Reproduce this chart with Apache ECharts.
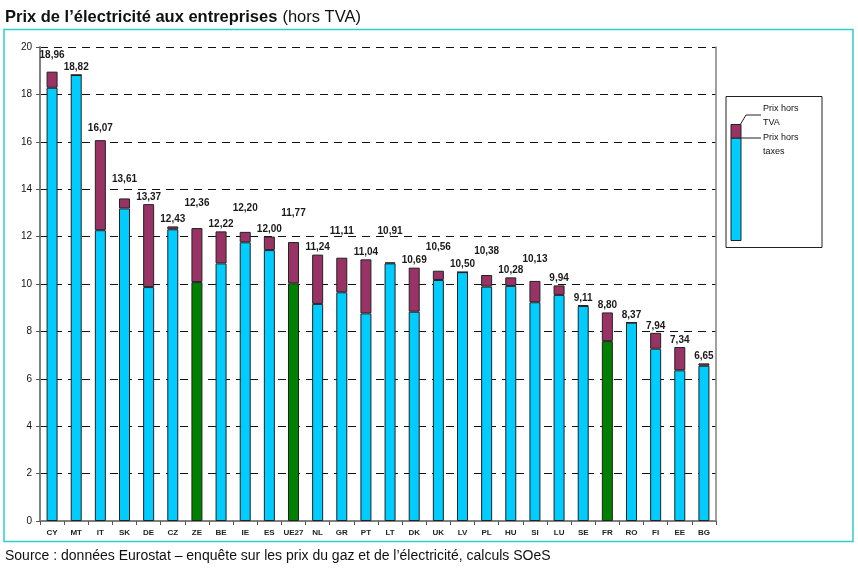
<!DOCTYPE html>
<html>
<head>
<meta charset="utf-8">
<script src="https://cdn.jsdelivr.net/npm/echarts@6/dist/echarts.min.js"></script>
<style>
  html, body { margin: 0; padding: 0; background: #fff; }
  #chart { width: 858px; height: 569px; }
</style>
</head>
<body>
<div id="chart"></div>
<script>
// pays (ordre du graphique)
var pays = ['CY','MT','IT','SK','DE','CZ','ZE','BE','IE','ES','UE27','NL','GR','PT',
            'LT','DK','UK','LV','PL','HU','SI','LU','SE','FR','RO','FI','EE','BG'];
// prix hors TVA (total affiché)
var prixHorsTVA = [18.96,18.82,16.07,13.61,13.37,12.43,12.36,12.22,12.20,12.00,11.77,11.24,11.11,11.04,
                   10.91,10.69,10.56,10.50,10.38,10.28,10.13,9.94,9.11,8.80,8.37,7.94,7.34,6.65];
// prix hors taxes
var prixHorsTaxes = [18.28,18.82,12.27,13.19,9.87,12.31,10.08,10.87,11.76,11.43,10.03,9.16,9.65,8.76,
                     10.87,8.83,10.17,10.50,9.89,9.92,9.23,9.54,9.07,7.59,8.37,7.27,6.36,6.55];
var enVert = ['ZE','UE27','FR'];
var yTicks = [0,2,4,6,8,10,12,14,16,18,20];

// décalage des étiquettes (certaines sont relevées)
var etiquetteHaute = {CY:9, SK:12, IT:5, ZE:18, IE:17, UE27:22, GR:19, LT:24, UK:16, PL:17, SI:15};

var bleu = '#00CCFF', bordeaux = '#993366', vert = '#008000';

var baseData = prixHorsTaxes.map(function (v, i) {
    return {value: v, itemStyle: {color: enVert.indexOf(pays[i]) >= 0 ? vert : bleu}};
});
var tvaData = prixHorsTVA.map(function (t, i) {
    var d = Math.max(0, +(t - prixHorsTaxes[i]).toFixed(2));
    return {
        value: d,
        label: {distance: 2 + (etiquetteHaute[pays[i]] || 0)}
    };
});

var option = {
    animation: false,
    title: {
        left: 0, top: 3,
        text: '{b|Prix de l\u2019électricité aux entreprises} {n|(hors TVA)}',
        textStyle: {
            rich: {
                b: {fontFamily: 'Liberation Sans', fontSize: 16.5, fontWeight: 'bold', color: '#111'},
                n: {fontFamily: 'Liberation Sans', fontSize: 16.5, fontWeight: 'normal', color: '#111'}
            }
        }
    },
    grid: {left: 40, right: 142, top: 47, bottom: 48},
    xAxis: {
        type: 'category',
        data: pays,
        axisLine: {lineStyle: {color: '#808080', width: 2}},
        axisTick: {show: true, length: 4, lineStyle: {color: '#555'}},
        axisLabel: {fontFamily: 'Liberation Sans', fontSize: 8, fontWeight: 'bold', color: '#222', margin: 8, interval: 0}
    },
    yAxis: [{
        type: 'value',
        min: 0, max: 20, interval: 2,
        axisLine: {show: true, lineStyle: {color: '#808080', width: 2}},
        axisTick: {show: true, length: 4, lineStyle: {color: '#555'}},
        axisLabel: {fontFamily: 'Liberation Sans', fontSize: 10, color: '#111', margin: 8,
            formatter: function (v) { return yTicks.indexOf(v) >= 0 ? v : ''; }},
        splitLine: {show: true, lineStyle: {color: '#111', type: [8, 6], width: 1}}
    }, {
        type: 'value',
        position: 'right',
        min: 0, max: 20, interval: 2,
        axisLine: {show: true, lineStyle: {color: '#808080', width: 1.5}},
        axisTick: {show: false},
        axisLabel: {show: false},
        splitLine: {show: false}
    }],
    series: [{
        name: 'Prix hors taxes',
        type: 'bar',
        stack: 'prix',
        barWidth: 11,
        data: baseData,
        itemStyle: {borderColor: '#222', borderWidth: 1}
    }, {
        name: 'Prix hors TVA',
        type: 'bar',
        stack: 'prix',
        barWidth: 11,
        data: tvaData,
        itemStyle: {color: bordeaux, borderColor: '#222', borderWidth: 1},
        label: {
            show: true,
            position: 'top',
            fontFamily: 'Liberation Sans',
            fontSize: 10,
            fontWeight: 'bold',
            color: '#1a1a1a',
            formatter: function (p) { return prixHorsTVA[p.dataIndex].toFixed(2).replace('.', ','); }
        }
    }],
    graphic: [
        // cadre
        {type: 'rect', shape: {x: 4, y: 29.5, width: 849, height: 512},
         style: {fill: 'none', stroke: '#33CCCC', lineWidth: 1.5}},
        // légende
        {type: 'rect', shape: {x: 726, y: 96.5, width: 96, height: 151},
         style: {fill: '#fff', stroke: '#222', lineWidth: 1}},
        {type: 'rect', shape: {x: 731, y: 138, width: 10, height: 102.5},
         style: {fill: bleu, stroke: '#222', lineWidth: 1}},
        {type: 'rect', shape: {x: 731, y: 124.5, width: 10, height: 13.5},
         style: {fill: bordeaux, stroke: '#222', lineWidth: 1}},
        {type: 'polyline', shape: {points: [[740, 125], [746, 115], [761, 115]]},
         style: {stroke: '#222', lineWidth: 1, fill: 'none'}},
        {type: 'polyline', shape: {points: [[741, 138], [761, 138]]},
         style: {stroke: '#222', lineWidth: 1, fill: 'none'}},
        {type: 'text', x: 763, y: 102, style: {text: 'Prix hors\nTVA', lineHeight: 14,
         font: '9px "Liberation Sans"', fill: '#111'}},
        {type: 'text', x: 763, y: 130.5, style: {text: 'Prix hors\ntaxes', lineHeight: 14,
         font: '9px "Liberation Sans"', fill: '#111'}},
        // source
        {type: 'text', x: 5, y: 549, style: {
            text: 'Source : données Eurostat \u2013 enquête sur les prix du gaz et de l\u2019électricité, calculs SOeS',
            font: '14px "Liberation Sans"', fill: '#111'}}
    ]
};

var myChart = echarts.init(document.getElementById('chart'));
myChart.setOption(option);
</script>
</body>
</html>
